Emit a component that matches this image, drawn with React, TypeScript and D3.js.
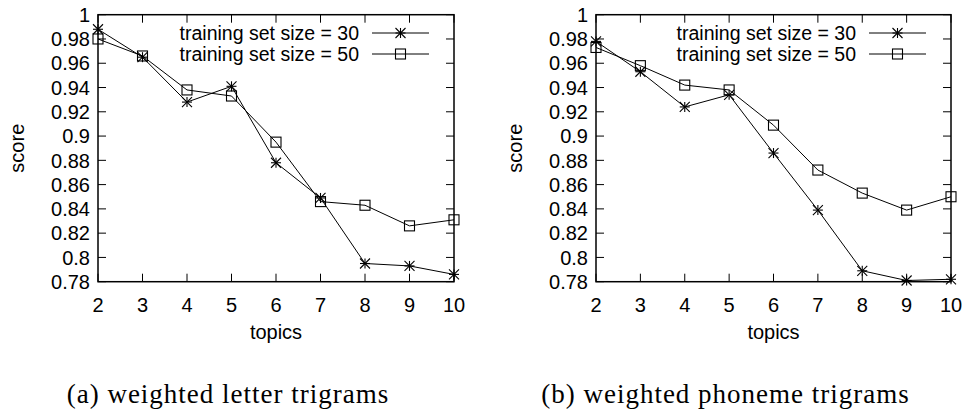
import React from "react";
import * as d3 from "d3";

const topics = [2, 3, 4, 5, 6, 7, 8, 9, 10];
const yTicks = [0.78, 0.8, 0.82, 0.84, 0.86, 0.88, 0.9, 0.92, 0.94, 0.96, 0.98, 1];
const seriesNames = ["training set size = 30", "training set size = 50"];
const letter30 = [0.988, 0.965, 0.928, 0.941, 0.878, 0.849, 0.795, 0.793, 0.786];
const letter50 = [0.98, 0.966, 0.938, 0.933, 0.895, 0.846, 0.843, 0.826, 0.831];
const phoneme30 = [0.978, 0.953, 0.924, 0.934, 0.886, 0.839, 0.789, 0.781, 0.782];
const phoneme50 = [0.973, 0.958, 0.942, 0.938, 0.909, 0.872, 0.853, 0.839, 0.85];
const captions = ["(a) weighted letter trigrams", "(b) weighted phoneme trigrams"];

const FONT = "'Liberation Sans', Arial, sans-serif";

function Star({ x, y }: { x: number; y: number }) {
  const s = 5;
  return (
    <g stroke="#000" strokeWidth={1.1}>
      <line x1={x - s} y1={y} x2={x + s} y2={y} />
      <line x1={x} y1={y - s} x2={x} y2={y + s} />
      <line x1={x - s} y1={y - s} x2={x + s} y2={y + s} />
      <line x1={x - s} y1={y + s} x2={x + s} y2={y - s} />
    </g>
  );
}

function Box({ x, y }: { x: number; y: number }) {
  const s = 5;
  return <rect x={x - s} y={y - s} width={2 * s} height={2 * s} fill="none" stroke="#000" strokeWidth={1.1} />;
}

function Panel({ left, right, s30, s50, caption }: { left: number; right: number; s30: number[]; s50: number[]; caption: string }) {
  const top = 14.7;
  const bottom = 281.7;
  const x = d3.scaleLinear().domain([2, 10]).range([left, right]);
  const y = d3.scaleLinear().domain([0.78, 1]).range([bottom, top]);
  const line = d3
    .line<number>()
    .x((_, i) => x(topics[i]))
    .y((d) => y(d));
  const tick = 8;
  const legX1 = right - 82;
  const legX2 = right - 25;
  const legMid = (legX1 + legX2) / 2;
  const legY = [33, 54];
  const mid = (left + right) / 2;
  return (
    <g fontFamily={FONT}>
      {yTicks.map((t) => (
        <g key={"y" + t}>
          <line x1={left} x2={left + tick} y1={y(t)} y2={y(t)} stroke="#000" />
          <line x1={right} x2={right - tick} y1={y(t)} y2={y(t)} stroke="#000" />
          <text x={left - 8} y={y(t)} dy="0.36em" textAnchor="end" fontSize={20}>
            {String(t)}
          </text>
        </g>
      ))}
      {topics.map((t) => (
        <g key={"x" + t}>
          <line x1={x(t)} x2={x(t)} y1={bottom} y2={bottom - tick} stroke="#000" />
          <line x1={x(t)} x2={x(t)} y1={top} y2={top + tick} stroke="#000" />
          <text x={x(t)} y={bottom + 30} textAnchor="middle" fontSize={20}>
            {String(t)}
          </text>
        </g>
      ))}
      <rect x={left} y={top} width={right - left} height={bottom - top} fill="none" stroke="#000" strokeWidth={1.5} />
      <text x={left - 81} y={(top + bottom) / 2} textAnchor="middle" fontSize={20} transform={`rotate(-90 ${left - 81} ${(top + bottom) / 2})`} dy="0.35em">
        score
      </text>
      <text x={mid} y={339} textAnchor="middle" fontSize={20}>
        topics
      </text>
      <text x={mid - 48} y={403} textAnchor="middle" fontSize={27} letterSpacing={1} fontFamily="'Liberation Serif', 'DejaVu Serif', serif">
        {caption}
      </text>
      <path d={line(s30) || ""} fill="none" stroke="#000" strokeWidth={1} />
      <path d={line(s50) || ""} fill="none" stroke="#000" strokeWidth={1} />
      {s30.map((v, i) => (
        <Star key={"s" + i} x={x(topics[i])} y={y(v)} />
      ))}
      {s50.map((v, i) => (
        <Box key={"b" + i} x={x(topics[i])} y={y(v)} />
      ))}
      {seriesNames.map((n, i) => (
        <g key={n}>
          <text x={legX1 - 13} y={legY[i]} dy="0.34em" textAnchor="end" fontSize={19.5}>
            {n}
          </text>
          <line x1={legX1} x2={legX2} y1={legY[i]} y2={legY[i]} stroke="#000" />
          {i === 0 ? <Star x={legMid} y={legY[i]} /> : <Box x={legMid} y={legY[i]} />}
        </g>
      ))}
    </g>
  );
}

export default function App() {
  return (
    <svg width={966} height={413} style={{ position: "absolute", left: 0, top: 0, background: "#fff" }}>
      <rect width={966} height={413} fill="#fff" />
      <Panel left={98} right={454} s30={letter30} s50={letter50} caption={captions[0]} />
      <Panel left={596} right={951} s30={phoneme30} s50={phoneme50} caption={captions[1]} />
    </svg>
  );
}
